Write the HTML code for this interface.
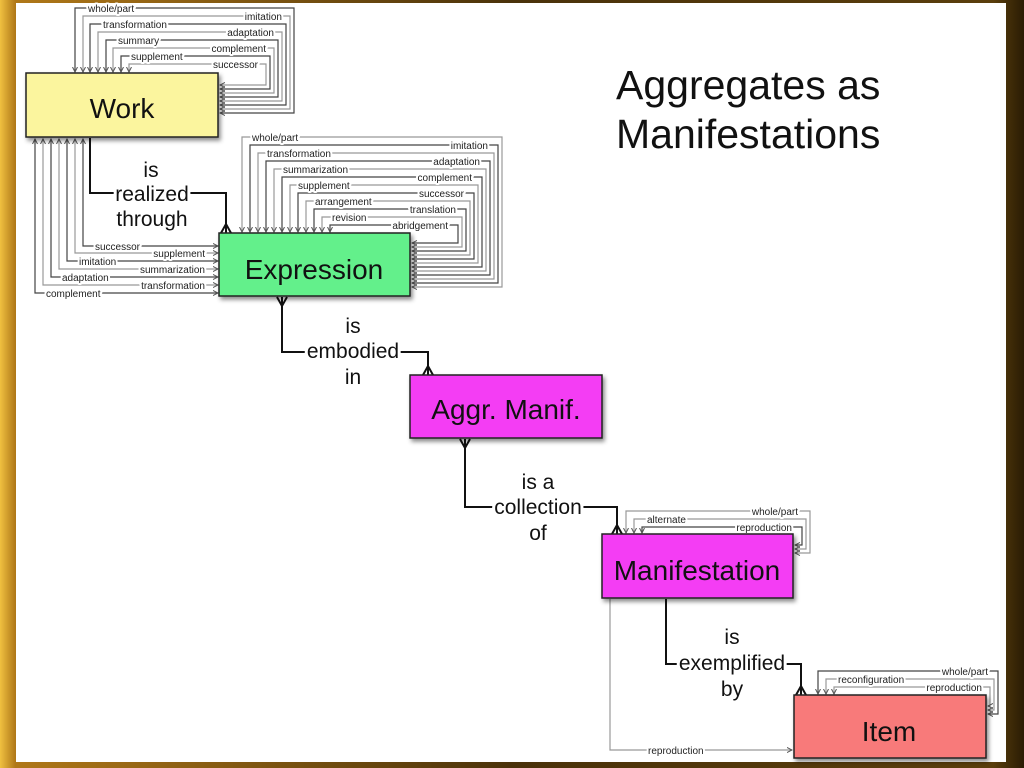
<!DOCTYPE html>
<html><head><meta charset="utf-8"><style>
html,body{margin:0;padding:0;width:1024px;height:768px;overflow:hidden;background:#3a2a08;}
.bg{position:absolute;left:0;top:0;width:1024px;height:768px;background:linear-gradient(90deg,#f0c040 0%,#b07818 1.5%,#4a320a 50%,#5a3e0c 97%,#2a1c04 100%);}
svg{position:absolute;left:0;top:0}
text{font-family:"Liberation Sans",Arial,sans-serif}
.s{font-size:10px;fill:#222;paint-order:stroke;stroke:#fff;stroke-width:4px;stroke-linejoin:round}
.b{font-size:21px;fill:#111;paint-order:stroke;stroke:#fff;stroke-width:6px}
.d{fill:none;stroke:#444;stroke-width:1.2}
.l{fill:none;stroke:#999;stroke-width:1.2}
.k{fill:none;stroke:#111;stroke-width:2}
</style></head><body><div class="bg"></div>
<svg width="1024" height="768" viewBox="0 0 1024 768">
<defs>
<marker id="a" markerWidth="6" markerHeight="6" refX="5" refY="3" orient="auto-start-reverse" markerUnits="userSpaceOnUse"><path d="M0,0.5 L5,3 L0,5.5" fill="none" stroke="#555" stroke-width="1"/></marker>
<filter id="sh" x="-5%" y="-5%" width="115%" height="120%"><feDropShadow dx="2" dy="3" stdDeviation="2" flood-opacity="0.45"/></filter>
</defs>
<rect x="16" y="3" width="990" height="759" fill="#fff"/>
<text x="616" y="99" font-size="41" fill="#111">Aggregates as</text>
<text x="616" y="148" font-size="41" fill="#111">Manifestations</text>

<g marker-start="url(#a)" marker-end="url(#a)">
<path class="d" d="M75 72 V8 H294 V113 H220"/>
<path class="l" d="M83 72 V16 H290 V109 H220"/>
<path class="d" d="M90 72 V24 H286 V105 H220"/>
<path class="l" d="M98 72 V32 H282 V101 H220"/>
<path class="d" d="M106 72 V40 H278 V97 H220"/>
<path class="l" d="M113 72 V48 H274 V93 H220"/>
<path class="d" d="M121 72 V56 H270 V89 H220"/>
<path class="l" d="M129 72 V64 H266 V85 H220"/>
</g>
<text class="s" x="88" y="12">whole/part</text>
<text class="s" x="282" y="20" text-anchor="end">imitation</text>
<text class="s" x="103" y="28">transformation</text>
<text class="s" x="274" y="36" text-anchor="end">adaptation</text>
<text class="s" x="118" y="44">summary</text>
<text class="s" x="266" y="52" text-anchor="end">complement</text>
<text class="s" x="131" y="60">supplement</text>
<text class="s" x="258" y="68" text-anchor="end">successor</text>

<g marker-start="url(#a)" marker-end="url(#a)">
<path class="d" d="M83 139 V246 H218"/>
<path class="l" d="M75 139 V253 H218"/>
<path class="d" d="M67 139 V261 H218"/>
<path class="l" d="M59 139 V269 H218"/>
<path class="d" d="M51 139 V277 H218"/>
<path class="l" d="M43 139 V285 H218"/>
<path class="d" d="M35 139 V293 H218"/>
</g>
<text class="s" x="95" y="250">successor</text>
<text class="s" x="205" y="257" text-anchor="end">supplement</text>
<text class="s" x="79" y="265">imitation</text>
<text class="s" x="205" y="273" text-anchor="end">summarization</text>
<text class="s" x="62" y="281">adaptation</text>
<text class="s" x="205" y="289" text-anchor="end">transformation</text>
<text class="s" x="46" y="297">complement</text>

<g marker-start="url(#a)" marker-end="url(#a)">
<path class="l" d="M242 232 V137 H502 V287 H412"/>
<path class="d" d="M250 232 V145 H498 V283 H412"/>
<path class="l" d="M258 232 V153 H494 V279 H412"/>
<path class="d" d="M266 232 V161 H490 V275 H412"/>
<path class="l" d="M274 232 V169 H486 V271 H412"/>
<path class="d" d="M282 232 V177 H482 V267 H412"/>
<path class="l" d="M290 232 V185 H478 V263 H412"/>
<path class="d" d="M298 232 V193 H474 V259 H412"/>
<path class="l" d="M306 232 V201 H470 V255 H412"/>
<path class="d" d="M314 232 V209 H466 V251 H412"/>
<path class="l" d="M322 232 V217 H462 V247 H412"/>
<path class="d" d="M330 232 V225 H458 V243 H412"/>
</g>
<text class="s" x="252" y="141">whole/part</text>
<text class="s" x="488" y="149" text-anchor="end">imitation</text>
<text class="s" x="267" y="157">transformation</text>
<text class="s" x="480" y="165" text-anchor="end">adaptation</text>
<text class="s" x="283" y="173">summarization</text>
<text class="s" x="472" y="181" text-anchor="end">complement</text>
<text class="s" x="298" y="189">supplement</text>
<text class="s" x="464" y="197" text-anchor="end">successor</text>
<text class="s" x="315" y="205">arrangement</text>
<text class="s" x="456" y="213" text-anchor="end">translation</text>
<text class="s" x="332" y="221">revision</text>
<text class="s" x="448" y="229" text-anchor="end">abridgement</text>

<g marker-start="url(#a)" marker-end="url(#a)">
<path class="l" d="M626 533 V511 H810 V553 H795"/>
<path class="l" d="M634 533 V519 H806 V549 H795"/>
<path class="d" d="M642 533 V527 H802 V545 H795"/>
</g>
<text class="s" x="798" y="515" text-anchor="end">whole/part</text>
<text class="s" x="647" y="523">alternate</text>
<text class="s" x="792" y="531" text-anchor="end">reproduction</text>

<g marker-start="url(#a)" marker-end="url(#a)">
<path class="d" d="M818 694 V671 H998 V714 H988"/>
<path class="l" d="M826 694 V679 H994 V710 H988"/>
<path class="l" d="M834 694 V687 H990 V706 H988"/>
</g>
<text class="s" x="988" y="675" text-anchor="end">whole/part</text>
<text class="s" x="838" y="683">reconfiguration</text>
<text class="s" x="982" y="691" text-anchor="end">reproduction</text>

<path class="l" d="M610 599 V750 H792" marker-end="url(#a)"/>
<text class="s" x="648" y="754">reproduction</text>

<path class="k" d="M90 138 V193 H226 V233"/>
<path class="k" d="M221 233 L226 224 L231 233"/>
<path class="k" d="M282 297 V352 H428 V375"/>
<path class="k" d="M277 297 L282 306 L287 297 M423 375 L428 366 L433 375"/>
<path class="k" d="M465 439 V507 H617 V534"/>
<path class="k" d="M460 439 L465 448 L470 439 M612 534 L617 525 L622 534"/>
<path class="k" d="M666 599 V664 H801 V695"/>
<path class="k" d="M796 695 L801 686 L806 695"/>
<text class="b" x="151" y="177" text-anchor="middle">is</text>
<text class="b" x="152" y="201" text-anchor="middle">realized</text>
<text class="b" x="152" y="226" text-anchor="middle">through</text>
<text class="b" x="353" y="333" text-anchor="middle">is</text>
<text class="b" x="353" y="358" text-anchor="middle">embodied</text>
<text class="b" x="353" y="384" text-anchor="middle">in</text>
<text class="b" x="538" y="489" text-anchor="middle">is a</text>
<text class="b" x="538" y="514" text-anchor="middle">collection</text>
<text class="b" x="538" y="540" text-anchor="middle">of</text>
<text class="b" x="732" y="644" text-anchor="middle">is</text>
<text class="b" x="732" y="670" text-anchor="middle">exemplified</text>
<text class="b" x="732" y="696" text-anchor="middle">by</text>

<g filter="url(#sh)" stroke="#222" stroke-width="1.5">
<rect x="26" y="73" width="192" height="64" fill="#fbf59e"/>
<rect x="219" y="233" width="191" height="63" fill="#63f08b"/>
<rect x="410" y="375" width="192" height="63" fill="#f43ef4"/>
<rect x="602" y="534" width="191" height="64" fill="#f43ef4"/>
<rect x="794" y="695" width="192" height="63" fill="#f87a7a"/>
</g>
<g font-size="28" fill="#111" text-anchor="middle">
<text x="122" y="118">Work</text>
<text x="314" y="279">Expression</text>
<text x="506" y="419">Aggr. Manif.</text>
<text x="697" y="580">Manifestation</text>
<text x="889" y="741">Item</text>
</g>
</svg>
</body></html>
